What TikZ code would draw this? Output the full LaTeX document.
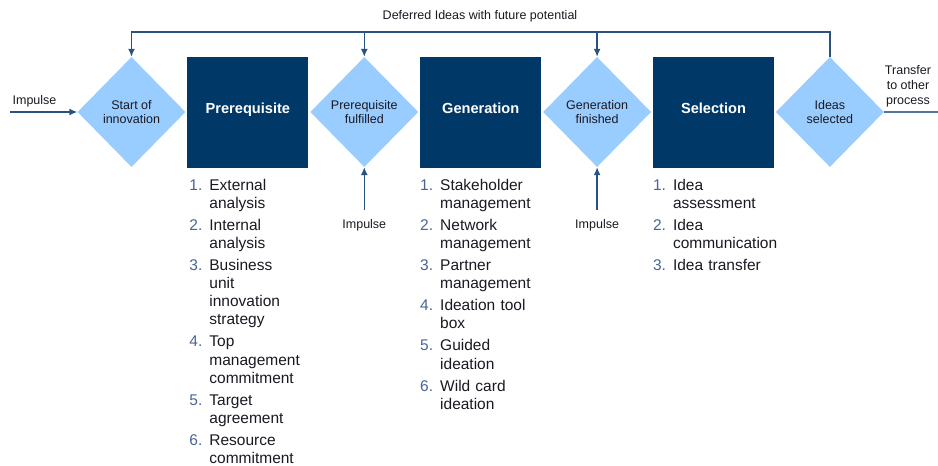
\documentclass[tikz,border=0pt]{standalone}
\usepackage{fontspec}
\setmainfont{Liberation Sans}
\usetikzlibrary{arrows.meta,positioning,shapes.geometric}

\definecolor{phaseblue}{RGB}{0,56,104}
\definecolor{gateblue}{RGB}{153,204,255}
\definecolor{flowblue}{RGB}{40,82,128}
\definecolor{numblue}{RGB}{70,100,150}
\definecolor{textdark}{RGB}{25,25,35}

\newcommand{\listentry}[2]{\hangindent=20pt\hangafter=1\noindent
  \makebox[20pt][l]{\color{numblue}#1}#2\par\vspace{4pt}}

\begin{document}
\begin{tikzpicture}[x=1pt,y=-1pt,>={Latex[length=8pt,width=7pt]},node distance=1.5pt,
    gate/.style={diamond,fill=gateblue,minimum width=108pt,minimum height=110pt,
      inner sep=0pt,align=center,text=textdark,font=\fontsize{12.5}{14.5}\selectfont},
    phase/.style={rectangle,fill=phaseblue,minimum width=121pt,minimum height=111pt,
      inner sep=0pt,text=white,text height=10.5pt,text depth=7pt,
      font=\fontsize{14.6}{17}\selectfont\bfseries},
    steplist/.style={text width=130pt,align=left,inner sep=0pt,text=textdark,
      font=\fontsize{15.5}{18.1}\selectfont},
    smalltext/.style={text=textdark,inner sep=0pt,align=center,
      font=\fontsize{12.5}{15}\selectfont},
    flow/.style={draw=flowblue,line width=1.4pt}]

  \useasboundingbox (0,0) rectangle (938,466);

  % gates and phases
  \node[gate] (start) at (131.5,112) {Start of\\innovation};
  \node[phase] (prereq) [right=of start] {Prerequisite};
  \node[gate] (fulfilled) [right=of prereq] {Prerequisite\\fulfilled};
  \node[phase] (generation) [right=of fulfilled] {Generation};
  \node[gate] (finished) [right=of generation] {Generation\\finished};
  \node[phase] (selection) [right=of finished] {Selection};
  \node[gate] (selected) [right=of selection] {Ideas\\selected};

  % task lists
  \node[steplist] (prereqlist) [below right=11pt and 2pt of prereq.south west] {%
    \listentry{1.}{External\newline analysis}%
    \listentry{2.}{Internal\newline analysis}%
    \listentry{3.}{Business\newline unit\newline innovation\newline strategy}%
    \listentry{4.}{Top\newline management\newline commitment}%
    \listentry{5.}{Target\newline agreement}%
    \listentry{6.}{Resource\newline commitment}};
  \node[steplist] (generationlist) [below right=11pt and 0pt of generation.south west] {%
    \listentry{1.}{Stakeholder\newline management}%
    \listentry{2.}{Network\newline management}%
    \listentry{3.}{Partner\newline management}%
    \listentry{4.}{Ideation tool\newline box}%
    \listentry{5.}{Guided\newline ideation}%
    \listentry{6.}{Wild card\newline ideation}};
  \node[steplist] (selectionlist) [below right=11pt and 0pt of selection.south west] {%
    \listentry{1.}{Idea\newline assessment}%
    \listentry{2.}{Idea\newline communication}%
    \listentry{3.}{Idea transfer}};

  % feedback loop
  \coordinate (loop) at (0,32);
  \node[smalltext] (deferred) at (480,16) {Deferred Ideas with future potential};
  \draw[flow,->] (selected.north) -- (selected.north |- loop) -- (start.north |- loop)
    -- (start.north);
  \draw[flow,->] (fulfilled.north |- loop) -- (fulfilled.north);
  \draw[flow,->] (finished.north |- loop) -- (finished.north);

  % impulses
  \coordinate (impulsein) at (10,112);
  \draw[flow,->] (impulsein) -- (start.west);
  \node[smalltext] (impulseleft) at (34.5,101) {Impulse};
  \draw[flow,<-] (fulfilled.south) -- ++(0,43)
    node[smalltext,below=9pt] (impulsemid) {Impulse};
  \draw[flow,<-] (finished.south) -- ++(0,43)
    node[smalltext,below=9pt] (impulseright) {Impulse};

  % transfer
  \coordinate (transferout) at (938,112);
  \draw[flow,line width=2pt,draw=flowblue!80] (selected.east) -- (transferout);
  \node[smalltext] (transfer) at (908,86) {Transfer\\to other\\process};
\end{tikzpicture}
\end{document}
